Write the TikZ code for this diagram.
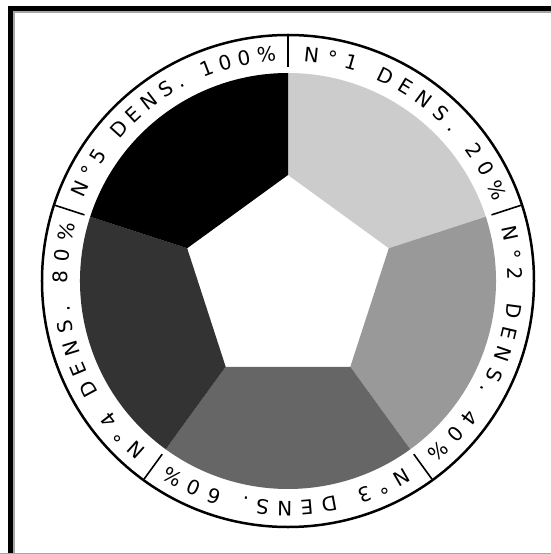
\documentclass[tikz,border=0pt]{standalone}
\usepackage{fontspec}
\setsansfont{DejaVu Sans}
\usetikzlibrary{decorations.text}

\newcommand{\densfont}{\sffamily\fontsize{20}{24}\selectfont}
\newcommand{\pct}{\char37}

\begin{document}
\begin{tikzpicture}[x=1pt, y=1pt,
    sector/.style={draw=none},
    ringline/.style={line width=2.5pt},
    ringtick/.style={line width=1.6pt},
    densband/.style={decorate, decoration={text along path, text align=fit to path}}]
    \useasboundingbox (-288,-273) rectangle (263,281);
    % frame (only left and top show)
    \draw[line width=5pt] (-277.5,-273) -- (-277.5,272.5) -- (263,272.5);
    \draw[black!35, line width=1.2pt] (-274,-273) -- (-274,269) -- (263,269);
    \draw[black!35, line width=1.5pt] (-288,-272.5) -- (263,-272.5);
    % density sectors round the pentagon
    \foreach \a/\d in {90/20, 18/40, -54/60, -126/80, 162/100}
        \fill[sector, black!\d] (\a:106) -- (\a:208)
            arc[start angle=\a, end angle=\a-72, radius=208]
            -- (\a-72:106) -- cycle;
    % outer ring
    \coordinate (O) at (0,0);
    \draw[ringline] (O) circle[radius=246];
    \foreach \a in {90, 18, -54, -126, 162}
        \draw[ringtick] (\a:214) -- (\a:245);
    % labels along the ring
    \path[densband, decoration={text={|\densfont|N{°}1 DENS. 20{\pct}}}]
        (86:220) arc[start angle=86, end angle=21, radius=220];
    \path[densband, decoration={text={|\densfont|N{°}2 DENS. 40{\pct}}}]
        (14:220) arc[start angle=14, end angle=-51, radius=220];
    \path[densband, decoration={text={|\densfont|N{°}3 DENS. 60{\pct}}}]
        (-58:220) arc[start angle=-58, end angle=-123, radius=220];
    \path[densband, decoration={text={|\densfont|N{°}4 DENS. 80{\pct}}}]
        (-130:220) arc[start angle=-130, end angle=-195, radius=220];
    \path[densband, decoration={text={|\densfont|N{°}5 DENS. 100{\pct}}}]
        (158:220) arc[start angle=158, end angle=93, radius=220];
\end{tikzpicture}
\end{document}
